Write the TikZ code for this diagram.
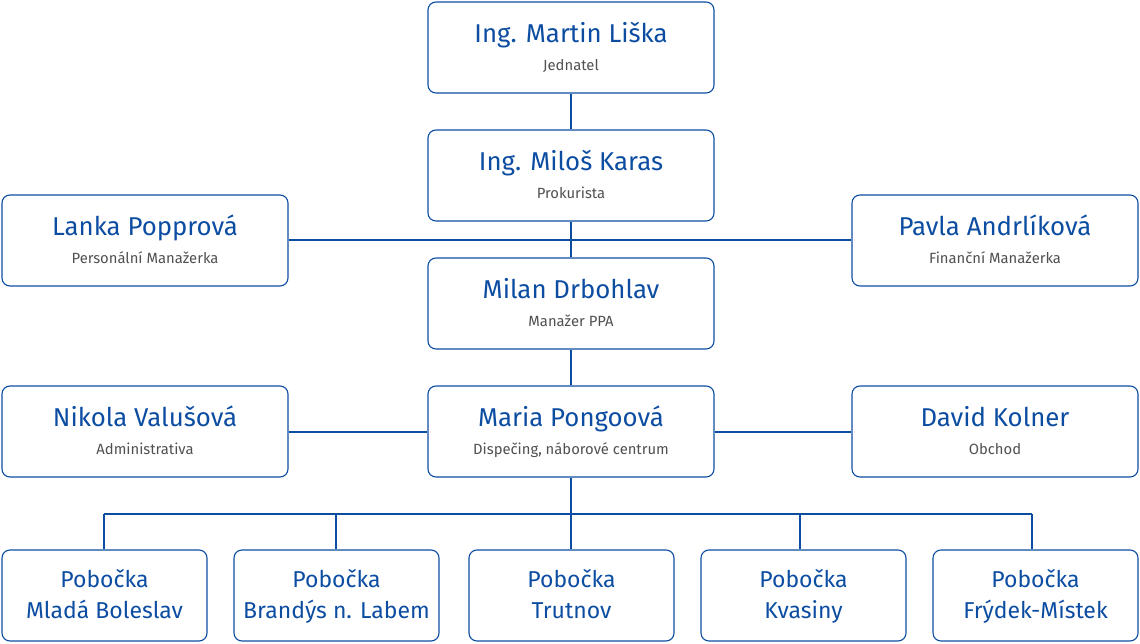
\documentclass[tikz,border=0pt]{standalone}
\usepackage{fontspec}
\setmainfont{Fira Sans}
\usetikzlibrary{calc}
\definecolor{blu}{HTML}{0C4DA2}
\definecolor{gry}{HTML}{505050}
\begin{document}
\begin{tikzpicture}[x=1pt,y=-1pt,
  card/.style={draw=blu,line width=1.1pt,rounded corners=8pt,minimum height=91pt,inner sep=0pt},
  wide/.style={card,minimum width=286pt},
  narrow/.style={card,minimum width=205pt},
  nm/.style={font=\fontsize{25.8}{28}\selectfont,text=blu,anchor=base,inner sep=0pt},
  sub/.style={font=\fontsize{14.8}{16}\selectfont,text=gry,anchor=base,inner sep=0pt},
  two/.style={font=\fontsize{23}{26}\selectfont,text=blu,anchor=base,inner sep=0pt},
  conn/.style={draw=blu,line width=2pt}]
\useasboundingbox (0,0) rectangle (1140,644);
% wide cards
\newcommand{\card}[5]{%
  \node[wide] (#1) at (#2,#3) {};
  \node[nm] at ($(#1.north)+(0,41)$) {#4};
  \node[sub] at ($(#1.north)+(0,69)$) {#5};}
\newcommand{\branch}[4]{%
  \node[narrow] (#1) at (#2,595.5) {};
  \node[two] at ($(#1.north)+(0,38)$) {#3};
  \node[two] at ($(#1.north)+(0,69)$) {#4};}
\card{liska}{571}{47.5}{Ing. Martin Liška}{Jednatel}
\card{karas}{571}{175.5}{Ing. Miloš Karas}{Prokurista}
\card{popp}{145}{240.5}{Lanka Popprová}{Personální Manažerka}
\card{andr}{995}{240.5}{Pavla Andrlíková}{Finanční Manažerka}
\card{drb}{571}{303.5}{Milan Drbohlav}{Manažer PPA}
\card{val}{145}{431.5}{Nikola Valušová}{Administrativa}
\card{pong}{571}{431.5}{Maria Pongoová}{Dispečing, náborové centrum}
\card{kol}{995}{431.5}{David Kolner}{Obchod}
% branches
\branch{b1}{104.5}{Pobočka}{Mladá Boleslav}
\branch{b2}{336.5}{Pobočka}{Brandýs n. Labem}
\branch{b3}{571.5}{Pobočka}{Trutnov}
\branch{b4}{803.5}{Pobočka}{Kvasiny}
\branch{b5}{1035.5}{Pobočka}{Frýdek-Místek}
% connectors
\coordinate (hub) at (571,240);
\coordinate (bus) at (571,514);
\coordinate (bL) at (104,514);
\coordinate (bR) at (1032,514);
\coordinate (x2) at (336,514);
\coordinate (x4) at (800,514);
\draw[conn] (liska.south -| hub) -- (karas.north -| hub);
\draw[conn] (karas.south -| hub) -- (drb.north -| hub);
\draw[conn] (popp.east |- hub) -- (andr.west |- hub);
\draw[conn] (drb.south -| hub) -- (pong.north -| hub);
\draw[conn] (val.east) -- (pong.west);
\draw[conn] (pong.east) -- (kol.west);
\draw[conn] (pong.south -| bus) -- (bus);
\draw[conn] (bL) -- (bR);
\draw[conn] (bL) -- (b1.north -| bL);
\draw[conn] (x2) -- (b2.north -| x2);
\draw[conn] (bus) -- (b3.north -| bus);
\draw[conn] (x4) -- (b4.north -| x4);
\draw[conn] (bR) -- (b5.north -| bR);
\end{tikzpicture}
\end{document}
